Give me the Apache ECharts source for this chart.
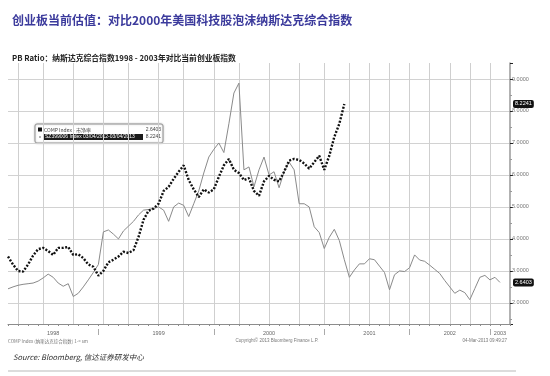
<!DOCTYPE html>
<html>
<head>
<meta charset="utf-8">
<script src="https://cdn.jsdelivr.net/npm/echarts@6/dist/echarts.min.js"></script>
<style>
  html, body { margin: 0; padding: 0; background: #fff; }
  #pb_chart { width: 550px; height: 376px; }
</style>
</head>
<body>
<div id="pb_chart"></div>
<script>
// x positions are sample slots along the Bloomberg time axis (101 slots)
const periods = Array.from({ length: 101 }, (_, i) => i)
const yearIdx = [9, 30, 52, 72, 88, 98]
const yearLabels = ['1998', '1999', '2000', '2001', '2002', '2003']
const yearSepIdx = [18, 41, 63, 80, 96]
const gridIdx = [2, 7, 13, 19, 24, 30, 35, 41, 46, 52, 58, 63, 68, 72, 76, 80, 84, 88, 92, 96]

// 纳斯达克综合指数 市净率 1998-2003
const compPB = [
  2.44, 2.5, 2.55, 2.58, 2.6, 2.62, 2.68, 2.78, 2.9, 2.8,
  2.62, 2.52, 2.6, 2.2, 2.3, 2.5, 2.72, 2.95, 3.2, 4.22,
  4.28, 4.15, 4.0, 4.25, 4.4, 4.55, 4.75, 4.9, 4.92, 4.95,
  5.0, 4.9, 4.55, 5.0, 5.12, 5.05, 4.7, 5.1, 5.5, 6.06,
  6.56, 6.8, 7.0, 6.7, 7.6, 8.56, 8.87, 6.16, 6.25, 5.63,
  6.16, 6.56, 6.0, 6.1, 5.6, 6.1, 6.4, 6.16, 5.1, 5.1,
  5.0, 4.38, 4.2, 3.7, 4.05, 4.3, 3.95, 3.35, 2.8, 3.03,
  3.22, 3.22, 3.38, 3.35, 3.15, 2.95, 2.41, 2.88, 3.0, 2.98,
  3.1, 3.5, 3.34, 3.3, 3.18, 3.05, 2.92, 2.7, 2.5, 2.3,
  2.4, 2.32, 2.1, 2.45, 2.8, 2.86, 2.72, 2.8, 2.64
]

// 创业板指数 市净率 2012-03 ~ 2013-03
const chinextPB = [
  3.45, 3.2, 3.0, 2.98, 3.2, 3.48, 3.68, 3.72, 3.62, 3.5,
  3.72, 3.72, 3.75, 3.5, 3.52, 3.4, 3.2, 3.13, 2.85, 3.0,
  3.27, 3.35, 3.45, 3.6, 3.56, 3.65, 4.06, 4.6, 4.88, 4.95,
  5.1, 5.5, 5.63, 5.88, 6.1, 6.3, 5.84, 5.55, 5.31, 5.55,
  5.45, 5.55, 5.94, 6.3, 6.5, 6.16, 6.06, 5.84, 5.9, 5.5,
  5.35, 5.8, 5.97, 5.85, 5.8, 6.1, 6.45, 6.5, 6.47, 6.36,
  6.2, 6.4, 6.6, 6.16, 6.6, 7.19, 7.6, 8.22
]

const lastComp = '2.6403'
const lastChinext = '8.2241'

const tinyFont = 'Liberation Sans, Arial, sans-serif'
const cnFont = '"Noto Sans CJK SC", sans-serif'

// black value tag on the right axis, hung on an invisible markLine
const endTag = (text, value) => ({
  silent: true,
  symbol: 'none',
  lineStyle: { color: 'rgba(0,0,0,0)', width: 0 },
  label: {
    show: true,
    position: 'end',
    distance: 3,
    formatter: text,
    color: '#fff',
    opacity: 1,
    backgroundColor: '#111',
    borderRadius: 2,
    padding: [1, 2],
    fontSize: 5.5,
    fontFamily: tinyFont
  },
  data: [{ yAxis: value }]
})

const chart = echarts.init(document.getElementById('pb_chart'))
chart.setOption({
  animation: false,
  backgroundColor: '#fff',
  grid: { left: 8, right: 40, top: 63, bottom: 52 },
  title: [
    {
      text: '创业板当前估值：对比2000年美国科技股泡沫纳斯达克综合指数',
      left: 7,
      top: 9,
      textStyle: { fontFamily: cnFont, fontSize: 12, fontWeight: 'bold', color: '#3b3a9c' }
    },
    {
      text: 'PB Ratio：纳斯达克综合指数1998 - 2003年对比当前创业板指数',
      left: 7,
      top: 49,
      textStyle: { fontFamily: cnFont, fontSize: 7.8, fontWeight: 'bold', color: '#222' }
    },
    {
      text: 'Source: Bloomberg, 信达证券研发中心',
      left: 8,
      top: 348,
      textStyle: { fontFamily: cnFont, fontSize: 7.5, fontStyle: 'italic', fontWeight: 'normal', color: '#333' }
    }
  ],
  xAxis: [
    {
      type: 'category',
      data: periods,
      boundaryGap: false,
      axisLine: { lineStyle: { color: '#8c8c8c', width: 1 } },
      axisTick: { show: true, interval: 1, length: 2, lineStyle: { color: '#8c8c8c' } },
      axisLabel: {
        interval: (i) => yearIdx.includes(i),
        formatter: (v, i) => yearLabels[yearIdx.indexOf(i)] || '',
        fontSize: 5.5,
        fontFamily: tinyFont,
        color: '#666',
        margin: 6
      },
      splitLine: {
        show: true,
        interval: (i) => gridIdx.includes(i),
        lineStyle: { color: '#cfcfcf', width: 1 }
      }
    },
    {
      type: 'category',
      data: periods,
      boundaryGap: false,
      position: 'bottom',
      offset: 5,
      axisLine: { show: false },
      axisTick: { show: true, interval: (i) => yearSepIdx.includes(i), length: 6, lineStyle: { color: '#aaa' } },
      axisLabel: { show: false },
      splitLine: { show: false }
    }
  ],
  yAxis: {
    type: 'value',
    position: 'right',
    min: 1.34,
    max: 9.5,
    splitNumber: 8,
    axisLine: { show: true, lineStyle: { color: '#999', width: 1.5 } },
    axisTick: { show: true, length: 3, lineStyle: { color: '#222' } },
    minorTick: { show: true, splitNumber: 2, length: 2, lineStyle: { color: '#999' } },
    axisLabel: {
      formatter: (v) => (Math.abs(v - Math.round(v)) < 1e-6 ? v.toFixed(4) : ''),
      fontSize: 5.5,
      fontFamily: tinyFont,
      color: '#777',
      margin: 2
    },
    splitLine: { show: true, showMaxLine: false, lineStyle: { color: '#d2d2d2', width: 1 } }
  },
  series: [
    {
      name: 'COMP Index - 市净率',
      type: 'line',
      data: compPB,
      clip: false,
      symbol: 'none',
      lineStyle: { color: '#8a8a8a', width: 1 },
      markLine: endTag(lastComp, 2.6403)
    },
    {
      name: 'SZ399006 Index',
      type: 'line',
      data: chinextPB,
      clip: false,
      symbol: 'none',
      lineStyle: { color: '#111', width: 2.4, type: [2, 1.6], cap: 'butt' },
      markLine: endTag(lastChinext, 8.2241)
    }
  ],
  graphic: [
    {
      type: 'rect',
      shape: { x: 35, y: 124, width: 128, height: 19, r: 2 },
      style: { fill: '#fff', stroke: '#999', lineWidth: 1, shadowBlur: 2, shadowColor: 'rgba(0,0,0,0.25)' }
    },
    { type: 'rect', shape: { x: 38, y: 127.5, width: 4, height: 4 }, style: { fill: '#111' } },
    {
      type: 'text', x: 44, y: 130,
      style: { text: 'COMP Index - 市净率', font: '5px ' + cnFont, fill: '#444', verticalAlign: 'middle' }
    },
    {
      type: 'text', x: 161, y: 130,
      style: { text: lastComp, font: '5px ' + tinyFont, fill: '#444', align: 'right', verticalAlign: 'middle' }
    },
    { type: 'rect', shape: { x: 39, y: 136.5, width: 2, height: 1 }, style: { fill: '#666' } },
    { type: 'rect', shape: { x: 44, y: 134, width: 99, height: 6 }, style: { fill: '#1a1a1a' } },
    {
      type: 'text', x: 45, y: 137,
      style: { text: 'SZ399006 Index 03/04/2012-03/04/2013', font: '5px ' + tinyFont, fill: '#fff', verticalAlign: 'middle' }
    },
    {
      type: 'text', x: 161, y: 137,
      style: { text: lastChinext, font: '5px ' + tinyFont, fill: '#444', align: 'right', verticalAlign: 'middle' }
    },
    {
      type: 'text', x: 8, y: 341,
      style: { text: 'COMP Index (纳斯达克综合指数) 1-> sm', font: '4.5px ' + cnFont, fill: '#777', verticalAlign: 'middle' }
    },
    {
      type: 'text', x: 277, y: 341,
      style: { text: 'Copyright© 2013 Bloomberg Finance L.P.', font: '4.5px ' + tinyFont, fill: '#777', align: 'center', verticalAlign: 'middle' }
    },
    {
      type: 'text', x: 507, y: 341,
      style: { text: '04-Mar-2013 09:49:27', font: '4.5px ' + tinyFont, fill: '#777', align: 'right', verticalAlign: 'middle' }
    },
    {
      type: 'line',
      shape: { x1: 8, y1: 371, x2: 516, y2: 371 },
      style: { stroke: '#d0d0d0', lineWidth: 1.5 }
    }
  ]
})
</script>
</body>
</html>
